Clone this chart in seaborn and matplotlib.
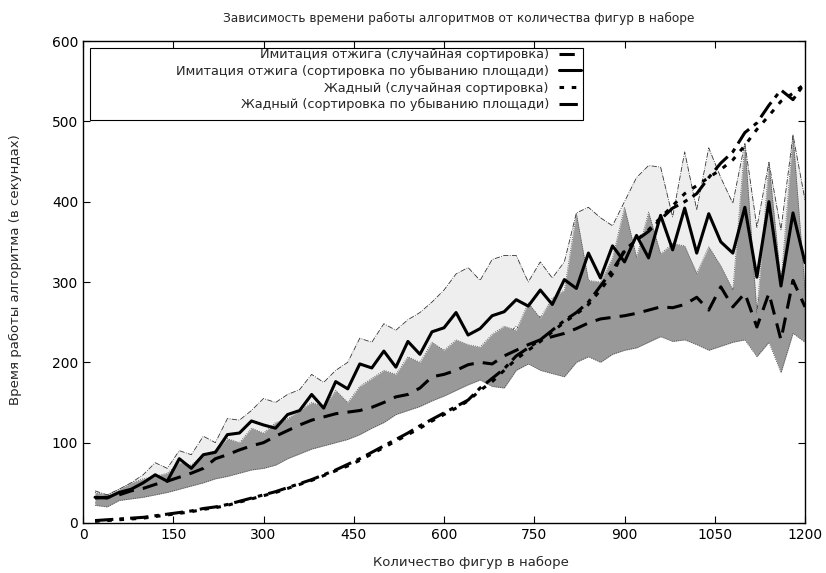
import matplotlib
matplotlib.use("Agg")
import matplotlib.pyplot as plt
import matplotlib.patches as mpatches
import pandas as pd
import seaborn as sns

# количество фигур в наборе
n_figures = [20, 40, 60, 80, 100, 120, 140, 160, 180, 200,
             220, 240, 260, 280, 300, 320, 340, 360, 380, 400,
             420, 440, 460, 480, 500, 520, 540, 560, 580, 600,
             620, 640, 660, 680, 700, 720, 740, 760, 780, 800,
             820, 840, 860, 880, 900, 920, 940, 960, 980, 1000,
             1020, 1040, 1060, 1080, 1100, 1120, 1140, 1160, 1180, 1200]

# имитация отжига, случайная сортировка: среднее, минимум, максимум
sa_rand = [31, 32, 35, 40, 43, 48, 52, 57, 62, 68,
           80, 85, 91, 96, 100, 108, 115, 122, 128, 132,
           136, 138, 140, 144, 150, 157, 160, 168, 182, 185,
           190, 197, 200, 198, 208, 215, 222, 228, 232, 236,
           242, 249, 254, 256, 258, 261, 265, 269, 268, 272,
           281, 265, 294, 269, 286, 244, 286, 228, 302, 269]
sa_rand_min = [22, 20, 28, 30, 32, 35, 38, 42, 46, 50,
               55, 58, 62, 66, 68, 72, 80, 86, 92, 96,
               100, 104, 110, 118, 125, 135, 140, 145, 152, 158,
               165, 172, 178, 170, 168, 190, 198, 190, 186, 182,
               200, 207, 200, 210, 215, 218, 225, 232, 226, 228,
               222, 215, 220, 225, 228, 207, 225, 187, 236, 225]
sa_rand_max = [38, 35, 42, 50, 55, 58, 62, 75, 72, 85,
               90, 105, 100, 118, 112, 125, 130, 140, 150, 145,
               165, 150, 170, 180, 190, 185, 207, 200, 225, 215,
               228, 222, 219, 235, 245, 240, 274, 255, 280, 290,
               385, 302, 300, 330, 393, 331, 387, 335, 348, 345,
               311, 344, 320, 290, 473, 261, 448, 300, 483, 290]

# имитация отжига, сортировка по убыванию площади
sa_sort = [32, 31, 38, 42, 50, 60, 52, 80, 68, 85,
           88, 110, 112, 127, 122, 118, 135, 140, 160, 143,
           176, 167, 198, 193, 214, 194, 226, 210, 238, 243,
           262, 234, 242, 258, 263, 278, 270, 290, 272, 303,
           292, 336, 305, 345, 325, 358, 330, 383, 340, 392,
           336, 385, 350, 336, 393, 306, 400, 295, 386, 324]
sa_sort_min = [25, 25, 30, 35, 40, 45, 48, 62, 58, 70,
               72, 88, 85, 100, 100, 95, 112, 120, 135, 125,
               150, 142, 168, 160, 180, 172, 200, 185, 205, 210,
               225, 205, 212, 225, 230, 245, 230, 258, 240, 268,
               255, 290, 265, 300, 280, 310, 285, 330, 295, 340,
               285, 330, 300, 290, 340, 265, 350, 250, 330, 280]
sa_sort_max = [40, 35, 42, 50, 60, 75, 68, 90, 85, 108,
               100, 130, 128, 140, 155, 150, 160, 166, 185, 175,
               190, 200, 230, 225, 248, 240, 253, 262, 275, 290,
               310, 318, 302, 328, 333, 333, 300, 325, 305, 325,
               386, 393, 380, 370, 400, 430, 445, 443, 381, 462,
               390, 467, 430, 398, 473, 368, 449, 365, 483, 402]

# жадный алгоритм
greedy_rand = [2, 3, 4, 5, 6, 8, 10, 12, 14, 17,
               19, 22, 26, 30, 34, 38, 43, 48, 53, 59,
               65, 71, 78, 86, 94, 102, 110, 118, 127, 135,
               143, 152, 165, 176, 190, 204, 215, 226, 238, 250,
               260, 272, 290, 310, 340, 352, 365, 380, 395, 410,
               420, 430, 440, 452, 470, 490, 507, 525, 535, 547]
greedy_sort = [3, 4, 5, 6, 7, 9, 11, 13, 15, 18,
               20, 23, 27, 31, 35, 39, 44, 49, 54, 60,
               66, 73, 80, 88, 96, 104, 112, 121, 129, 137,
               145, 153, 168, 180, 192, 208, 218, 228, 240, 252,
               262, 275, 295, 315, 338, 352, 363, 378, 392, 400,
               410, 430, 448, 462, 486, 498, 520, 539, 527, 548]

labels = ["Имитация отжига (случайная сортировка)",
          "Имитация отжига (сортировка по убыванию площади)",
          "Жадный (случайная сортировка)",
          "Жадный (сортировка по убыванию площади)"]

df = pd.DataFrame({"n": n_figures, "sa_rand": sa_rand, "sa_sort": sa_sort,
                   "greedy_rand": greedy_rand, "greedy_sort": greedy_sort})

sns.set_style("ticks")
plt.rcParams["font.family"] = ["DejaVu Sans"]

fig = plt.figure(figsize=(8.26, 5.73), dpi=100)
ax = fig.add_axes([0.1005, 0.0873, 0.8741, 0.8411])

ax.fill_between(n_figures, sa_sort_min, sa_sort_max, color="#eeeeee", lw=0, zorder=1)
ax.plot(n_figures, sa_sort_min, color="#333333", lw=0.6, ls="-.", zorder=1.5)
ax.plot(n_figures, sa_sort_max, color="#333333", lw=0.6, ls="-.", zorder=1.5)
ax.fill_between(n_figures, sa_rand_min, sa_rand_max, color="#999999", lw=0, zorder=2)
ax.plot(n_figures, sa_rand_min, color="#444444", lw=0.6, ls=":", zorder=2.5)
ax.plot(n_figures, sa_rand_max, color="#444444", lw=0.6, ls=":", zorder=2.5)

styles = [(0, (5, 3)), "-", (0, (1.5, 2.5)), (0, (6, 2, 1.5, 2))]
cols = ["sa_rand", "sa_sort", "greedy_rand", "greedy_sort"]
handles = []
for c, st, lab in zip(cols, styles, labels):
    sns.lineplot(data=df, x="n", y=c, ax=ax, color="black", lw=2.2,
                 linestyle=st, label=lab, zorder=3, legend=False)
    handles.append(ax.lines[-1])

ax.set_xlim(0, 1200)
ax.set_ylim(0, 600)
ax.set_xticks(range(0, 1201, 150))
ax.set_yticks(range(0, 601, 100))
ax.tick_params(direction="in", length=5, width=0.8, top=True, right=True,
               labelsize=10, colors="black")
for s in ax.spines.values():
    s.set_linewidth(1.0)
    s.set_color("black")

ax.set_xlabel("Количество фигур в наборе", fontsize=9.5)
ax.xaxis.set_label_coords(0.537, -0.068)
ax.set_ylabel("Время работы алгоритма (в секундах)", fontsize=9.5)
ax.yaxis.set_label_coords(-0.084, 0.525)
fig.text(459 / 826, 1 - 18 / 573,
         "Зависимость времени работы алгоритмов от количества фигур в наборе",
         ha="center", va="center", fontsize=8.7)

# рамка легенды фиксированной ширины, как в gnuplot
ax.add_patch(mpatches.Rectangle((0.0097, 0.836), 0.6828, 0.1495,
                                transform=ax.transAxes, facecolor="white",
                                edgecolor="black", lw=0.8, zorder=4))
leg = ax.legend(handles=handles, labels=labels, loc="upper right",
                bbox_to_anchor=(0.69, 0.985), markerfirst=False,
                fontsize=9.3, handlelength=1.7, handletextpad=0.8,
                labelspacing=0.28, borderpad=0, borderaxespad=0,
                frameon=False)
leg.set_zorder(5)

fig.savefig("out.png", dpi=100)
